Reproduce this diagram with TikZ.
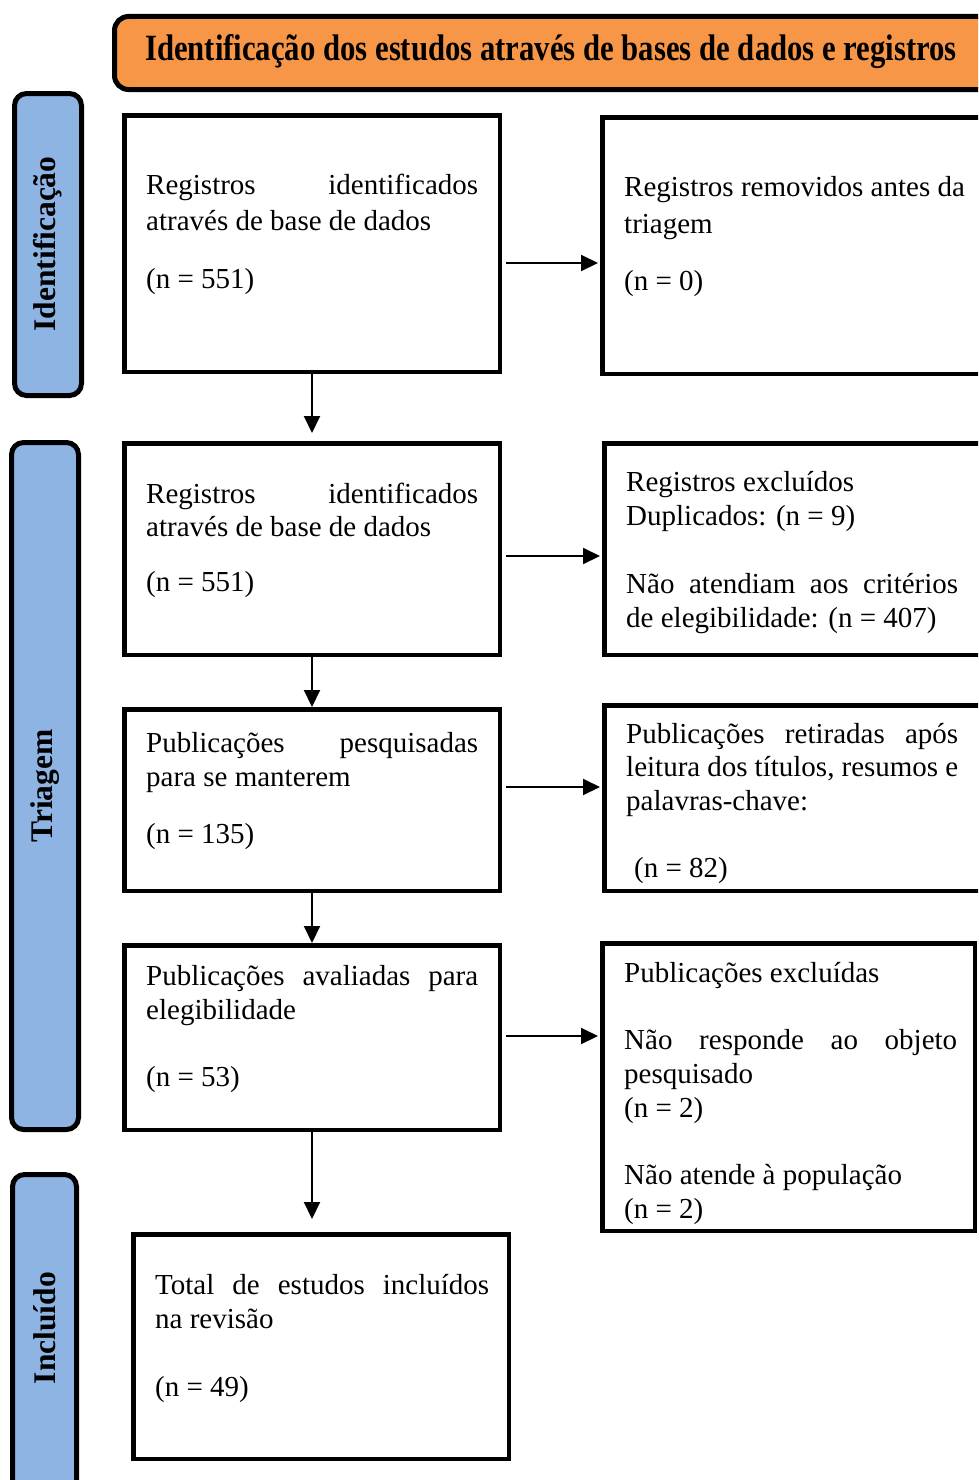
\documentclass[tikz,border=0pt]{standalone}
\usepackage{fontspec}
\setmainfont{Liberation Serif}
\usetikzlibrary{arrows.meta}
\definecolor{hdrorange}{RGB}{247,150,70}
\definecolor{barblue}{RGB}{141,180,227}
\newcommand\jl[2]{\leavevmode\hbox to #1pt{\spaceskip=0.25em plus 1fil minus 0.1em\relax #2}}
\newcommand\topstrut{\spaceskip=0pt\relax\xspaceskip=0pt\relax\rule{0pt}{25pt}}
\tikzset{
  box/.style={draw, line width=4.5pt, anchor=north west, inner sep=0pt},
  sidebar/.style={draw, line width=5pt, rounded corners=12pt, fill=barblue, anchor=north west, inner sep=0pt},
  arr/.style={line width=2pt, -{Triangle[length=17pt,width=16pt]}},
  harr/.style={arr, shorten <=4pt, shorten >=2pt},
  txt/.style={anchor=north west, inner sep=0pt, align=left, font=\fontsize{29}{34}\selectfont},
  lab/.style={rotate=90, font=\bfseries\fontsize{31.5}{34}\selectfont, inner sep=0pt}
}
\begin{document}
\begin{tikzpicture}[x=1pt,y=-1pt]
\useasboundingbox (0,0) rectangle (978,1480);
\clip (0,0) rectangle (978,1480);
% side bars
\node[sidebar, minimum width=67pt, minimum height=302pt] (bid) at (12,91) {};
\node[sidebar, minimum width=67pt, minimum height=687pt] (btr) at (9,440) {};
\node[sidebar, minimum width=64pt, minimum height=330pt] (bin) at (10,1172) {};
\node[lab] (lid) at (48,244) {Identificação};
\node[lab] (ltr) at (45,786) {Triagem};
\node[lab] (lin) at (45,1328) {Incluído};
% header
\node[draw, line width=5pt, rounded corners=14pt, fill=hdrorange, anchor=north west, minimum width=900pt, minimum height=73pt] (hdr) at (112,14) {};
\node[anchor=base, inner sep=0pt] (htxt) at (551,60) {\scalebox{0.83}[1]{\bfseries\fontsize{37}{40}\selectfont Identificação dos estudos através de bases de dados e registros}};
% left boxes
\node[box, minimum width=375.5pt, minimum height=256.5pt] (b1) at (122,113) {};
\node[box, minimum width=375.5pt, minimum height=211.5pt] (b2) at (122,441) {};
\node[box, minimum width=375.5pt, minimum height=181.5pt] (b3) at (122,707) {};
\node[box, minimum width=375.5pt, minimum height=184.5pt] (b4) at (122,943) {};
\node[box, minimum width=375.5pt, minimum height=224.5pt] (b5) at (131,1232) {};
% right boxes
\node[box, minimum width=420pt, minimum height=256.5pt] (r1) at (600,115) {};
\node[box, minimum width=420pt, minimum height=211.5pt] (r2) at (602,441) {};
\node[box, minimum width=420pt, minimum height=185.5pt] (r3) at (602,703) {};
\node[box, minimum width=372.5pt, minimum height=287.5pt] (r4) at (600,941) {};
% texts left
\node[txt, text width=332pt] (t1) at (146,169) {\topstrut\jl{332}{Registros identificados}\\[2pt] através de base de dados\\[24pt] (n = 551)};
\node[txt, text width=332pt] (t2) at (146,478) {\topstrut\jl{332}{Registros identificados}\\[-1pt] através de base de dados\\[21pt] (n = 551)};
\node[txt, text width=332pt] (t3) at (146,727) {\topstrut\jl{332}{Publicações pesquisadas}\\ para se manterem\\[23pt] (n = 135)};
\node[txt, text width=332pt] (t4) at (146,960) {\topstrut\jl{332}{Publicações avaliadas para}\\ elegibilidade\\[33pt] (n = 53)};
\node[txt, text width=334pt] (t5) at (155,1269) {\topstrut\jl{334}{Total de estudos incluídos}\\ na revisão\\[34pt] (n = 49)};
% texts right
\node[txt, text width=350pt] (s1) at (624,171) {\topstrut Registros removidos antes da\\[3pt] triagem\\[23pt] (n = 0)};
\node[txt, text width=332pt] (s2) at (626,466) {\topstrut Registros excluídos\\ Duplicados: (n = 9)\\[34pt] \jl{332}{Não atendiam aos critérios}\\ de elegibilidade: (n = 407)};
\node[txt, text width=332pt] (s3) at (626,718) {\topstrut\jl{332}{Publicações retiradas após}\\[-1pt] \jl{332}{leitura dos títulos, resumos e}\\ palavras-chave:\\[33pt] \hspace*{8pt}(n = 82)};
\node[txt, text width=333pt] (s4) at (624,957) {\topstrut Publicações excluídas\\[33pt] \jl{333}{Não responde ao objeto}\\ pesquisado\\ (n = 2)\\[33pt] Não atende à população\\ (n = 2)};
% arrows
\draw[harr] (b1.east |- 0,263) -- (r1.west |- 0,263);
\draw[harr] (b2.east |- 0,556) -- (r2.west |- 0,556);
\draw[harr] (b3.east |- 0,787) -- (r3.west |- 0,787);
\draw[harr] (b4.east |- 0,1036) -- (r4.west |- 0,1036);
\draw[arr, shorten >=8pt] (b1.south) -- (b2.north);
\draw[arr] (b2.south) -- (b3.north);
\draw[arr] (b3.south) -- (b4.north);
\draw[arr, shorten >=13pt] (b4.south) -- (b4.south |- b5.north);
\end{tikzpicture}
\end{document}
